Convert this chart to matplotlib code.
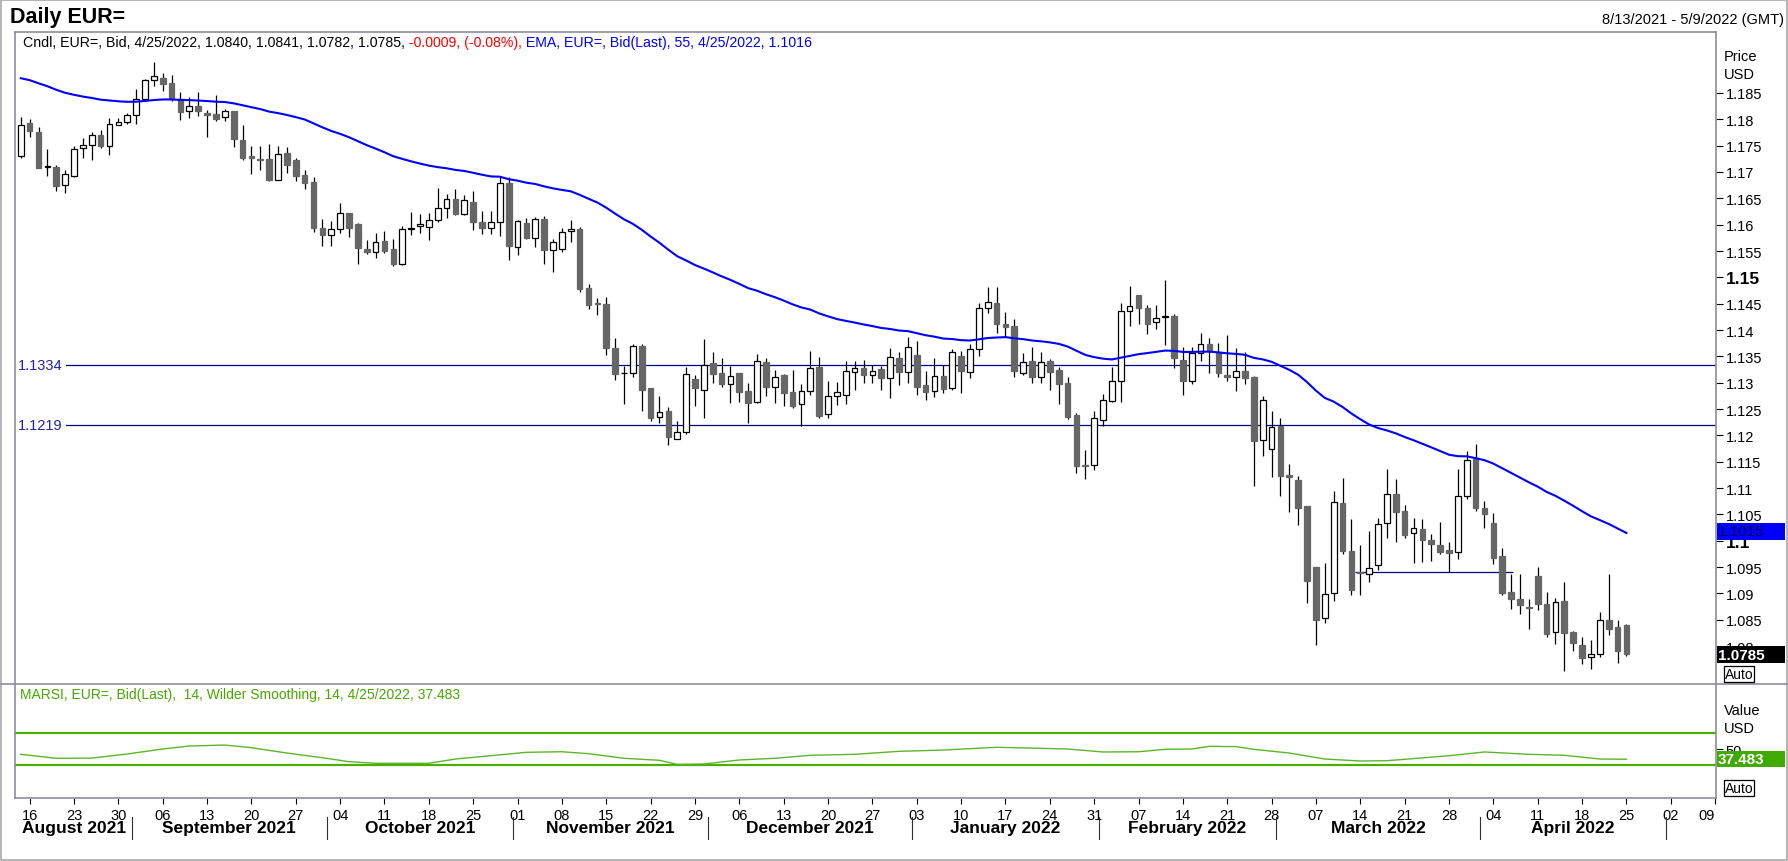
import matplotlib
matplotlib.use('Agg')
import matplotlib.pyplot as plt
import matplotlib.transforms as mtransforms
from matplotlib.patches import Rectangle
from matplotlib.lines import Line2D
import numpy as np
import pandas as pd

# ---------------- data ----------------
start_date = '2021-08-13'
end_date = '2022-05-09'

opens = [
1.1730, 1.1793, 1.1775, 1.1710, 1.1709, 1.1675, 1.1692, 1.1745, 1.1752, 1.1770,
1.1750, 1.1790, 1.1794, 1.1808, 1.1838, 1.1874, 1.1878, 1.1869, 1.1839, 1.1815,
1.1825, 1.1812, 1.1810, 1.1804, 1.1816, 1.1761, 1.1730, 1.1725, 1.1725, 1.1684,
1.1736, 1.1723, 1.1694, 1.1681, 1.1593, 1.1580, 1.1591, 1.1622, 1.1601, 1.1554,
1.1549, 1.1569, 1.1554, 1.1526, 1.1591, 1.1597, 1.1595, 1.1608, 1.1631, 1.1648,
1.1621, 1.1643, 1.1605, 1.1594, 1.1605, 1.1679, 1.1557, 1.1603, 1.1575, 1.1611,
1.1551, 1.1553, 1.1588, 1.1592, 1.1479, 1.1451, 1.1449, 1.1366, 1.1318, 1.1318,
1.1369, 1.1290, 1.1234, 1.1246, 1.1194, 1.1206, 1.1307, 1.1287, 1.1337, 1.1318,
1.1298, 1.1318, 1.1284, 1.1264, 1.1339, 1.1291, 1.1315, 1.1282, 1.1259, 1.1284,
1.1330, 1.1240, 1.1274, 1.1276, 1.1321, 1.1328, 1.1315, 1.1326, 1.1308, 1.1347,
1.1321, 1.1353, 1.1295, 1.1285, 1.1313, 1.1290, 1.1351, 1.1321, 1.1363, 1.1441,
1.1451, 1.1411, 1.1408, 1.1318, 1.1341, 1.1310, 1.1341, 1.1324, 1.1299, 1.1239,
1.1143, 1.1143, 1.1230, 1.1266, 1.1303, 1.1437, 1.1466, 1.1442, 1.1415, 1.1425,
1.1427, 1.1343, 1.1304, 1.1357, 1.1373, 1.1359, 1.1315, 1.1310, 1.1323, 1.1310,
1.1191, 1.1175, 1.1217, 1.1124, 1.1115, 1.1066, 1.0950, 1.0853, 1.0900, 1.1072,
1.0980, 1.0941, 1.0937, 1.0953, 1.1033, 1.1088, 1.1056, 1.1014, 1.1023, 1.1001,
1.0992, 1.0982, 1.0978, 1.1084, 1.1156, 1.1062, 1.1033, 1.0971, 1.0902, 1.0889,
1.0875, 1.0933, 1.0880, 1.0826, 1.0885, 1.0826, 1.0802, 1.0779, 1.0784, 1.0849,
1.0836, 1.0840]

highs = [
1.1804, 1.1801, 1.1785, 1.1744, 1.1713, 1.1704, 1.1749, 1.1764, 1.1775, 1.1780,
1.1802, 1.1803, 1.1812, 1.1858, 1.1877, 1.1909, 1.1888, 1.1885, 1.1851, 1.1842,
1.1852, 1.1818, 1.1846, 1.1820, 1.1816, 1.1789, 1.1750, 1.1749, 1.1754, 1.1749,
1.1747, 1.1727, 1.1704, 1.1691, 1.1611, 1.1607, 1.1641, 1.1622, 1.1603, 1.1570,
1.1584, 1.1588, 1.1572, 1.1597, 1.1624, 1.1620, 1.1622, 1.1670, 1.1658, 1.1668,
1.1656, 1.1664, 1.1626, 1.1626, 1.1690, 1.1690, 1.1609, 1.1613, 1.1614, 1.1616,
1.1573, 1.1594, 1.1609, 1.1595, 1.1487, 1.1460, 1.1463, 1.1385, 1.1332, 1.1373,
1.1373, 1.1290, 1.1275, 1.1254, 1.1228, 1.1330, 1.1315, 1.1383, 1.1358, 1.1347,
1.1332, 1.1318, 1.1299, 1.1354, 1.1347, 1.1324, 1.1316, 1.1324, 1.1297, 1.1360,
1.1349, 1.1303, 1.1301, 1.1341, 1.1341, 1.1343, 1.1333, 1.1332, 1.1366, 1.1358,
1.1387, 1.1379, 1.1322, 1.1346, 1.1334, 1.1364, 1.1360, 1.1373, 1.1451, 1.1482,
1.1482, 1.1434, 1.1420, 1.1356, 1.1368, 1.1358, 1.1345, 1.1329, 1.1310, 1.1242,
1.1173, 1.1246, 1.1278, 1.1330, 1.1451, 1.1484, 1.1466, 1.1448, 1.1448, 1.1495,
1.1430, 1.1367, 1.1367, 1.1394, 1.1385, 1.1375, 1.1391, 1.1366, 1.1358, 1.1313,
1.1275, 1.1246, 1.1233, 1.1146, 1.1122, 1.1066, 1.0950, 1.0958, 1.1094, 1.1119,
1.1041, 1.0992, 1.1018, 1.1044, 1.1136, 1.1117, 1.1068, 1.1044, 1.1042, 1.1013,
1.1036, 1.0997, 1.1136, 1.1170, 1.1184, 1.1075, 1.1052, 1.0987, 1.0936, 1.0937,
1.0889, 1.0950, 1.0903, 1.0892, 1.0922, 1.0829, 1.0818, 1.0812, 1.0865, 1.0936,
1.0849, 1.0841]

lows = [
1.1726, 1.1766, 1.1707, 1.1693, 1.1663, 1.1660, 1.1690, 1.1726, 1.1723, 1.1745,
1.1732, 1.1789, 1.1791, 1.1791, 1.1835, 1.1864, 1.1854, 1.1835, 1.1799, 1.1803,
1.1807, 1.1767, 1.1797, 1.1797, 1.1748, 1.1723, 1.1697, 1.1704, 1.1682, 1.1684,
1.1699, 1.1682, 1.1667, 1.1587, 1.1560, 1.1560, 1.1585, 1.1577, 1.1526, 1.1544,
1.1537, 1.1546, 1.1522, 1.1524, 1.1581, 1.1585, 1.1570, 1.1606, 1.1613, 1.1618,
1.1618, 1.1589, 1.1583, 1.1583, 1.1579, 1.1532, 1.1543, 1.1572, 1.1558, 1.1525,
1.1511, 1.1549, 1.1568, 1.1473, 1.1440, 1.1429, 1.1353, 1.1306, 1.1260, 1.1311,
1.1247, 1.1228, 1.1223, 1.1182, 1.1194, 1.1202, 1.1256, 1.1232, 1.1299, 1.1292,
1.1262, 1.1264, 1.1224, 1.1262, 1.1275, 1.1262, 1.1256, 1.1251, 1.1218, 1.1277,
1.1232, 1.1232, 1.1258, 1.1260, 1.1287, 1.1299, 1.1299, 1.1287, 1.1270, 1.1296,
1.1300, 1.1277, 1.1267, 1.1273, 1.1280, 1.1287, 1.1281, 1.1309, 1.1351, 1.1433,
1.1395, 1.1386, 1.1311, 1.1315, 1.1300, 1.1299, 1.1287, 1.1260, 1.1231, 1.1129,
1.1118, 1.1135, 1.1218, 1.1264, 1.1264, 1.1408, 1.1411, 1.1393, 1.1401, 1.1372,
1.1327, 1.1277, 1.1298, 1.1341, 1.1319, 1.1311, 1.1304, 1.1285, 1.1298, 1.1103,
1.1161, 1.1120, 1.1085, 1.1054, 1.1030, 1.0882, 1.0801, 1.0844, 1.0886, 1.0974,
1.0897, 1.0897, 1.0922, 1.0945, 1.1006, 1.0998, 1.1006, 1.0957, 1.0960, 1.0962,
1.0975, 1.0940, 1.0966, 1.1080, 1.1057, 1.1025, 1.0956, 1.0896, 1.0871, 1.0861,
1.0832, 1.0868, 1.0818, 1.0804, 1.0753, 1.0791, 1.0765, 1.0757, 1.0780, 1.0820,
1.0767, 1.0782]

closes = [
1.1790, 1.1777, 1.1708, 1.1712, 1.1674, 1.1696, 1.1743, 1.1752, 1.1770, 1.1750,
1.1792, 1.1794, 1.1808, 1.1838, 1.1874, 1.1882, 1.1868, 1.1839, 1.1813, 1.1825,
1.1815, 1.1808, 1.1801, 1.1816, 1.1763, 1.1726, 1.1726, 1.1722, 1.1685, 1.1735,
1.1714, 1.1693, 1.1680, 1.1594, 1.1581, 1.1592, 1.1622, 1.1594, 1.1555, 1.1549,
1.1567, 1.1550, 1.1525, 1.1591, 1.1594, 1.1601, 1.1608, 1.1631, 1.1648, 1.1621,
1.1646, 1.1606, 1.1594, 1.1605, 1.1679, 1.1560, 1.1607, 1.1575, 1.1610, 1.1551,
1.1567, 1.1586, 1.1592, 1.1477, 1.1448, 1.1449, 1.1366, 1.1317, 1.1319, 1.1369,
1.1287, 1.1232, 1.1245, 1.1196, 1.1206, 1.1316, 1.1289, 1.1334, 1.1317, 1.1298,
1.1312, 1.1283, 1.1262, 1.1341, 1.1291, 1.1310, 1.1281, 1.1256, 1.1284, 1.1328,
1.1237, 1.1275, 1.1282, 1.1323, 1.1327, 1.1315, 1.1323, 1.1308, 1.1348, 1.1321,
1.1367, 1.1292, 1.1283, 1.1312, 1.1288, 1.1358, 1.1323, 1.1363, 1.1441, 1.1453,
1.1412, 1.1406, 1.1323, 1.1340, 1.1310, 1.1339, 1.1321, 1.1298, 1.1235, 1.1141,
1.1141, 1.1232, 1.1268, 1.1303, 1.1437, 1.1445, 1.1441, 1.1412, 1.1422, 1.1426,
1.1347, 1.1304, 1.1356, 1.1373, 1.1360, 1.1319, 1.1310, 1.1323, 1.1308, 1.1190,
1.1267, 1.1216, 1.1123, 1.1120, 1.1063, 1.0923, 1.0850, 1.0898, 1.1073, 1.0980,
1.0906, 1.0939, 1.0949, 1.1031, 1.1088, 1.1054, 1.1011, 1.1025, 1.1002, 1.0994,
1.0979, 1.0976, 1.1084, 1.1154, 1.1063, 1.1051, 1.0968, 1.0901, 1.0890, 1.0877,
1.0873, 1.0880, 1.0823, 1.0883, 1.0825, 1.0805, 1.0778, 1.0784, 1.0849, 1.0833,
1.0791, 1.0785]

ema_period = 55
ema_seed = 1.1878          # EMA value read at the first bar

marsi_dates = ['2021-08-13', '2021-08-19', '2021-08-25', '2021-08-31', '2021-09-06',
               '2021-09-09', '2021-09-15', '2021-09-20', '2021-09-24', '2021-09-30',
               '2021-10-05', '2021-10-08', '2021-10-18', '2021-10-21', '2021-10-27',
               '2021-11-02', '2021-11-08', '2021-11-11', '2021-11-17', '2021-11-23',
               '2021-11-25', '2021-11-30', '2021-12-06', '2021-12-10', '2021-12-16',
               '2021-12-23', '2021-12-30', '2022-01-06', '2022-01-14', '2022-01-21',
               '2022-01-26', '2022-02-01', '2022-02-07', '2022-02-10', '2022-02-15',
               '2022-02-17', '2022-02-22', '2022-02-24', '2022-03-02', '2022-03-08',
               '2022-03-14', '2022-03-17', '2022-03-22', '2022-03-28', '2022-04-01',
               '2022-04-08', '2022-04-14', '2022-04-20', '2022-04-25']
marsi_vals = [43.6, 38.7, 38.9, 44.0, 50.2, 53.9, 55.1, 51.8, 45.2, 39.4,
              34.5, 32.5, 32.5, 37.8, 41.9, 46.1, 46.8, 44.4, 38.7, 36.2,
              31.2, 31.6, 36.6, 38.7, 42.4, 43.6, 47.3, 48.9, 52.3, 51.0,
              50.2, 46.5, 46.8, 49.8, 50.2, 53.5, 53.1, 49.8, 45.2, 37.8,
              35.3, 35.7, 38.3, 41.9, 46.5, 43.6, 42.4, 37.8, 37.5]
marsi_last_label = '37.483'
rsi_levels = [70, 30]

level_lines = [1.1334, 1.1219]
level_labels = ['1.1334', '1.1219']
support_price = 1.0940
support_from, support_to = '2022-03-11', '2022-04-06'

price_ticks = [1.08, 1.085, 1.09, 1.095, 1.10, 1.105, 1.11, 1.115, 1.12, 1.125,
               1.13, 1.135, 1.14, 1.145, 1.15, 1.155, 1.16, 1.165, 1.17, 1.175,
               1.18, 1.185]
price_tick_labels = ['1.08', '1.085', '1.09', '1.095', '1.1', '1.105', '1.11', '1.115',
                     '1.12', '1.125', '1.13', '1.135', '1.14', '1.145', '1.15', '1.155',
                     '1.16', '1.165', '1.17', '1.175', '1.18', '1.185']
bold_ticks = ['1.15', '1.1']

for arr in (opens, highs, lows, closes):
    assert len(arr) == 182, len(arr)
assert len(marsi_dates) == len(marsi_vals)

# ---------------- setup ----------------
plt.rcParams['font.family'] = ['Liberation Sans', 'DejaVu Sans']
W, H, DPI = 1788, 862, 100
fig = plt.figure(figsize=(W / DPI, H / DPI), dpi=DPI)
fig.patch.set_facecolor('white')


def fx(px):
    return px / W


def fy(py):
    return 1 - py / H


dates = pd.bdate_range(start_date, end_date)
pos = {d.strftime('%Y-%m-%d'): i for i, d in enumerate(dates)}
XL = (-0.65, 191.1)
L, R = 15, 1716
FRAME = '#8c8ca0'

ax = fig.add_axes([fx(L), fy(685), fx(R) - fx(L), fy(33) - fy(685)])
axr = fig.add_axes([fx(L), fy(799), fx(R) - fx(L), fy(685) - fy(799)])

# ---------------- candles ----------------
o = np.array(opens); h = np.array(highs); lo = np.array(lows); c = np.array(closes)
x = np.arange(len(c))
up = c >= o
ax.vlines(x, lo, h, color='black', lw=0.9, zorder=2)
ax.bar(x[up], (c - o)[up], bottom=o[up], width=0.64, facecolor='white',
       edgecolor='black', lw=0.9, zorder=3)
ax.bar(x[~up], (o - c)[~up], bottom=c[~up], width=0.64, facecolor='#666666',
       edgecolor='#666666', lw=0.9, zorder=3)

# EMA computed from the closes
alpha = 2.0 / (ema_period + 1)
ema = [ema_seed]
for v in c[1:]:
    ema.append(ema[-1] + alpha * (v - ema[-1]))
ax.plot(x, ema, color='#0000ff', lw=1.5, zorder=4)

# level lines (label sits on the line, line continues to its right)
for lv, lb in zip(level_lines, level_labels):
    ax.axhline(lv, color='#00008b', lw=0.9, zorder=1)
    ax.text(XL[0] + 0.35, lv, lb, color='#2323a8', fontsize=10.5, va='center', ha='left',
            zorder=1.5, bbox=dict(facecolor='white', edgecolor='none', pad=2.2))
ax.hlines(support_price, pos[support_from] + 0.4, pos[support_to] + 0.2,
          color='#00008b', lw=0.9, zorder=1)

ax.set_xlim(*XL)
ax.set_ylim(1.07279, 1.19658)
ax.set_xticks([])
ax.yaxis.tick_right()
ax.set_yticks(price_ticks)
ax.set_yticklabels(price_tick_labels)
ax.tick_params(axis='y', direction='out', length=5, width=0.8, pad=2,
               labelsize=10.5, colors='black')
for t in ax.get_yticklabels():
    if t.get_text() in bold_ticks:
        t.set_fontweight('bold')
        t.set_fontsize(12.5)
for s in ['left', 'top', 'right']:
    ax.spines[s].set_color(FRAME)
    ax.spines[s].set_linewidth(1.2)
    ax.spines[s].set_zorder(6)
ax.spines['bottom'].set_visible(False)

# ---------------- MARSI panel ----------------
mx = [pos[d] for d in marsi_dates]
for lv in rsi_levels:
    axr.axhline(lv, color='#4cae00', lw=1.6)
axr.plot(mx, marsi_vals, color='#5cb52a', lw=1.0)
axr.set_xlim(*XL)
axr.set_ylim(-10.5, 130.7)
axr.yaxis.tick_right()
axr.set_yticks([50])
axr.set_yticklabels(['50'])
axr.tick_params(axis='y', direction='out', length=5, width=0.8, pad=2, labelsize=10.5)
for s in ['left', 'bottom', 'right']:
    axr.spines[s].set_color(FRAME)
    axr.spines[s].set_linewidth(1.2)
axr.spines['top'].set_visible(False)

mondays = [i for i, d in enumerate(dates) if d.weekday() == 0]
axr.set_xticks(mondays)
axr.set_xticklabels([f'{dates[i].day:02d}' for i in mondays])
axr.tick_params(axis='x', direction='out', length=4, width=0.8, pad=3, labelsize=10.5)
last = axr.get_xticklabels()[-1]
last.set_ha('right')

trans = mtransforms.blended_transform_factory(axr.transData, fig.transFigure)
month_idx = {}
for i, d in enumerate(dates):
    month_idx.setdefault((d.year, d.month), []).append(i)
keys = sorted(month_idx)
for k in keys:
    idxs = month_idx[k]
    if k != keys[0]:
        axr.add_line(Line2D([idxs[0] - 0.5, idxs[0] - 0.5], [fy(818), fy(840)],
                            transform=trans, color='#303030', lw=0.8, clip_on=False))
    if k == keys[-1]:
        continue
    name = pd.Timestamp(year=k[0], month=k[1], day=1).strftime('%B %Y')
    axr.text((idxs[0] + idxs[-1]) / 2, fy(829), name, transform=trans, ha='center',
             va='center', fontsize=12.5, fontweight='bold', clip_on=False)

# ---------------- frame lines & texts ----------------
fig.add_artist(Line2D([0, 1], [fy(685), fy(685)], transform=fig.transFigure,
                      color=FRAME, lw=1.2))
fig.add_artist(Rectangle((0.0005, 0.001), 0.999, 0.998, transform=fig.transFigure,
                         fill=False, edgecolor='#a8a8a8', lw=1.2))

fig.text(fx(10), fy(17), 'Daily EUR=', fontsize=15.5, fontweight='bold', va='center', ha='left')
fig.text(fx(1784), fy(20), '8/13/2021 - 5/9/2022 (GMT)', fontsize=10.5, va='center', ha='right')
fig.text(fx(1724), fy(57), 'Price', fontsize=10.5, va='center', ha='left')
fig.text(fx(1724), fy(75), 'USD', fontsize=10.5, va='center', ha='left')
fig.text(fx(1724), fy(711), 'Value', fontsize=10.5, va='center', ha='left')
fig.text(fx(1724), fy(729), 'USD', fontsize=10.5, va='center', ha='left')


def value_box(y0, y1, fc, txt, tc, bold=False):
    fig.add_artist(Rectangle((fx(1717), fy(y1)), fx(1785) - fx(1717), fy(y0) - fy(y1),
                             transform=fig.transFigure, facecolor=fc, edgecolor='none',
                             zorder=10))
    fig.text(fx(1718), fy((y0 + y1) / 2), txt, color=tc, fontsize=11,
             fontweight='bold' if bold else 'normal', va='center', ha='left', zorder=11)


def auto_box(yc):
    fig.add_artist(Rectangle((fx(1724), fy(yc + 8)), fx(1754) - fx(1724), fy(yc - 8) - fy(yc + 8),
                             transform=fig.transFigure, facecolor='white',
                             edgecolor='black', lw=0.9, zorder=10))
    fig.text(fx(1739), fy(yc), 'Auto', fontsize=10, va='center', ha='center', zorder=11)


value_box(524, 541, '#0000ff', f'{ema[-1]:.4f}', '#000050')
value_box(647, 664, 'black', f'{closes[-1]:.4f}', 'white', bold=True)
value_box(752, 768, '#3fab00', marsi_last_label, 'white', bold=True)
auto_box(675)
auto_box(789)

fig.text(fx(20), fy(695), 'MARSI, EUR=, Bid(Last),  14, Wilder Smoothing, 14, 4/25/2022, 37.483',
         color='#48a800', fontsize=10, va='center', ha='left')

# legend line with coloured pieces
LFS = 10.2
pieces = [('Cndl, EUR=, Bid, 4/25/2022, 1.0840, 1.0841, 1.0782, 1.0785,', 'black'),
          (' -0.0009, (-0.08%),', '#ff0000'),
          (' EMA, EUR=, Bid(Last), 55, 4/25/2022, 1.1016', '#0000ff')]
fig.canvas.draw()
rend = fig.canvas.get_renderer()
prefix = ''
for s, col in pieces:
    wpx = 0
    if prefix:
        probe = fig.text(0, 0, prefix + 'I', fontsize=LFS)
        probe_i = fig.text(0, 0, 'I', fontsize=LFS)
        wpx = probe.get_window_extent(rend).width - probe_i.get_window_extent(rend).width
        probe.remove(); probe_i.remove()
    fig.text(fx(23 + wpx), fy(43), s, color=col, fontsize=LFS, va='center', ha='left')
    prefix += s

fig.savefig('out.png', dpi=DPI)
